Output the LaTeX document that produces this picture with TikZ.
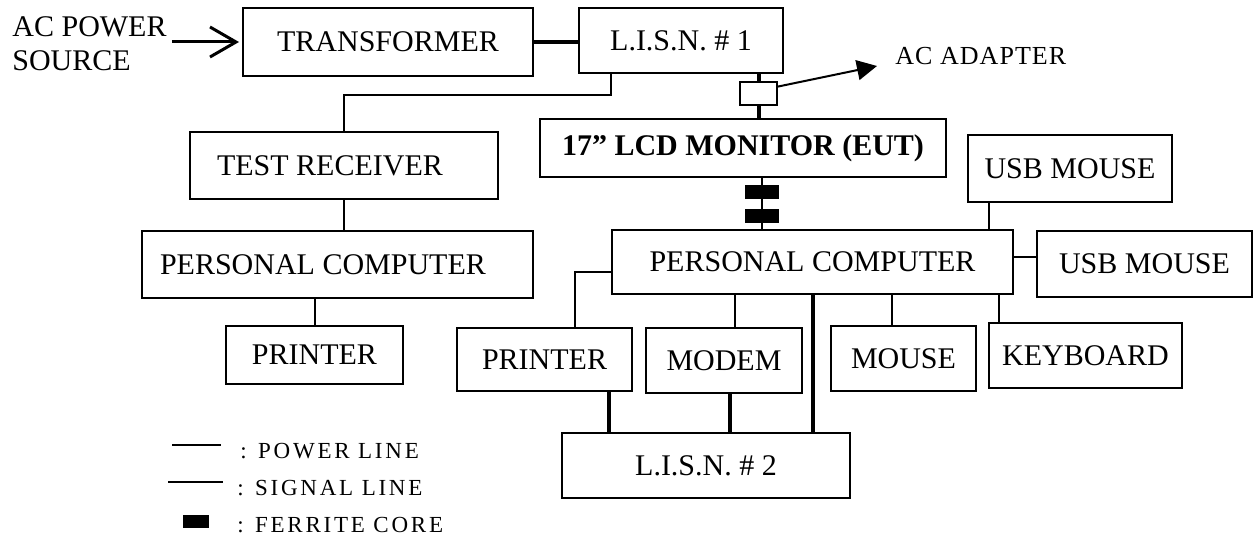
\documentclass[tikz,border=0pt]{standalone}
\usepackage{fontspec}
\setmainfont{Liberation Serif}
\usetikzlibrary{arrows.meta, calc}
\tikzset{unit/.style={draw,line width=1pt,inner sep=0pt,outer sep=0pt,font=\fontsize{15}{18}\selectfont}}
\tikzset{pwr/.style={line width=1pt}}
\tikzset{sig/.style={line width=2pt}}
\tikzset{core/.style={fill=black,minimum width=17pt,minimum height=7pt,inner sep=0pt,outer sep=0pt}}
\tikzset{feed/.style={line width=1.5pt,-{Straight Barb[length=13pt,width=15pt]},shorten >=2pt}}
\tikzset{legend text/.style={anchor=base west,inner sep=0pt,font=\fontsize{11.5}{13}\selectfont\addfontfeature{LetterSpace=12}}}

\begin{document}
\begin{tikzpicture}[x=0.5pt,y=-0.5pt]
    \useasboundingbox (0,0) rectangle (1258,535);

    \node[anchor=north west,align=left,inner sep=0pt,font=\fontsize{15}{17}\selectfont] (src) at (12,16) {AC POWER\\SOURCE};
    \node[unit,minimum width=145pt,minimum height=34pt] (trans) at (388,42) {TRANSFORMER};
    \node[unit,minimum width=102pt,minimum height=32.5pt] (lisn1) at (681,40.5) {L.I.S.N. \# 1};
    \node[unit,minimum width=18.5pt,minimum height=11.5pt] (adapter) at (758.5,93.5) {};
    \node[anchor=base west,inner sep=0pt,font=\fontsize{13}{15}\selectfont\addfontfeature{LetterSpace=4}] (acad) at (895,65) {AC ADAPTER};
    \node[unit,minimum width=203pt,minimum height=29pt,font=\fontsize{15}{18}\selectfont\bfseries] (monitor) at (743,148) {17” LCD MONITOR (EUT)};
    \node[unit,minimum width=154pt,minimum height=33.5pt,text width=127pt,align=flush left] (recv) at (344,165.5) {TEST RECEIVER};
    \node[unit,minimum width=195.5pt,minimum height=33.5pt,text width=177.5pt,align=flush left] (pcL) at (337.5,264.5) {PERSONAL COMPUTER};
    \node[unit,minimum width=88.5pt,minimum height=29pt] (prnL) at (314.5,355) {PRINTER};
    \node[unit,minimum width=200.5pt,minimum height=32pt] (pcR) at (812.5,262) {PERSONAL COMPUTER};
    \node[unit,minimum width=102pt,minimum height=33.5pt] (usb1) at (1070,168.5) {USB MOUSE};
    \node[unit,minimum width=107.5pt,minimum height=33pt] (usb2) at (1144.5,264) {USB MOUSE};
    \node[unit,minimum width=87.5pt,minimum height=31.5pt] (prnR) at (544.5,359.5) {PRINTER};
    \node[unit,minimum width=78pt,minimum height=32.5pt] (modem) at (724,360.5) {MODEM};
    \node[unit,minimum width=72.5pt,minimum height=32.5pt] (mouse) at (903.5,358.5) {MOUSE};
    \node[unit,minimum width=96.5pt,minimum height=32.5pt] (kbd) at (1085.5,355.5) {KEYBOARD};
    \node[unit,minimum width=144pt,minimum height=32.5pt] (lisn2) at (706,465.5) {L.I.S.N. \# 2};

    \draw[feed] ($(src.east |- trans.west)+(5,0)$) -- (trans.west);
    \draw[sig] (trans.east) -- (trans.east -| lisn1.west);
    \draw[pwr] (lisn1.south west) ++(32,0) -- ++(0,22) -| (recv.north);
    \draw[sig] (adapter.north) -- (adapter.north |- lisn1.south);
    \draw[sig] (adapter.south) -- (adapter.south |- monitor.north);
    \draw[pwr,-{Triangle[length=10pt,width=10pt]}] (adapter.20) -- ($(acad.base west)+(-18,1)$);
    \draw[pwr] (monitor.south) ++(19,0) coordinate (mc) -- (mc |- pcR.north);
    \node[core] (fc1) at (762,192) {};
    \node[core] (fc2) at (762,215.5) {};
    \draw[pwr] (recv.south) -- (recv.south |- pcL.north);
    \draw[pwr] (prnL.north) -- (prnL.north |- pcL.south);
    \draw[pwr] ([yshift=-5pt]pcR.west) -| ([xshift=15pt]prnR.north);
    \draw[pwr] (modem.north) ++(11,0) coordinate (md) -- (md |- pcR.south);
    \draw[pwr] (mouse.north) ++(-11.5,0) coordinate (ms) -- (ms |- pcR.south);
    \draw[pwr] (kbd.north) ++(-87,0) coordinate (kb) -- (kb |- pcR.south);
    \draw[pwr] (usb1.south) ++(-81,0) coordinate (ub) -- (ub |- pcR.north);
    \draw[pwr] (pcR.east) ++(0,-5) coordinate (pe) -- (pe -| usb2.west);
    \draw[sig] (pcR.south) -- (pcR.south |- lisn2.north);
    \draw[sig] (prnR.south) ++(64,0) coordinate (pr) -- (pr |- lisn2.north);
    \draw[sig] (modem.south) ++(6,0) coordinate (mo) -- (mo |- lisn2.north);

    \draw[pwr] (172,445) -- (221,445);
    \node[legend text] (lgPwr) at (240,458) {: POWER LINE};
    \draw[pwr] (168,482) -- (223,482);
    \node[legend text] (lgSig) at (237,495) {: SIGNAL LINE};
    \node[core,minimum width=13pt,minimum height=6.5pt] (lgCore) at (196,521.5) {};
    \node[legend text] (lgCoreTxt) at (237,532) {: FERRITE CORE};
\end{tikzpicture}
\end{document}
